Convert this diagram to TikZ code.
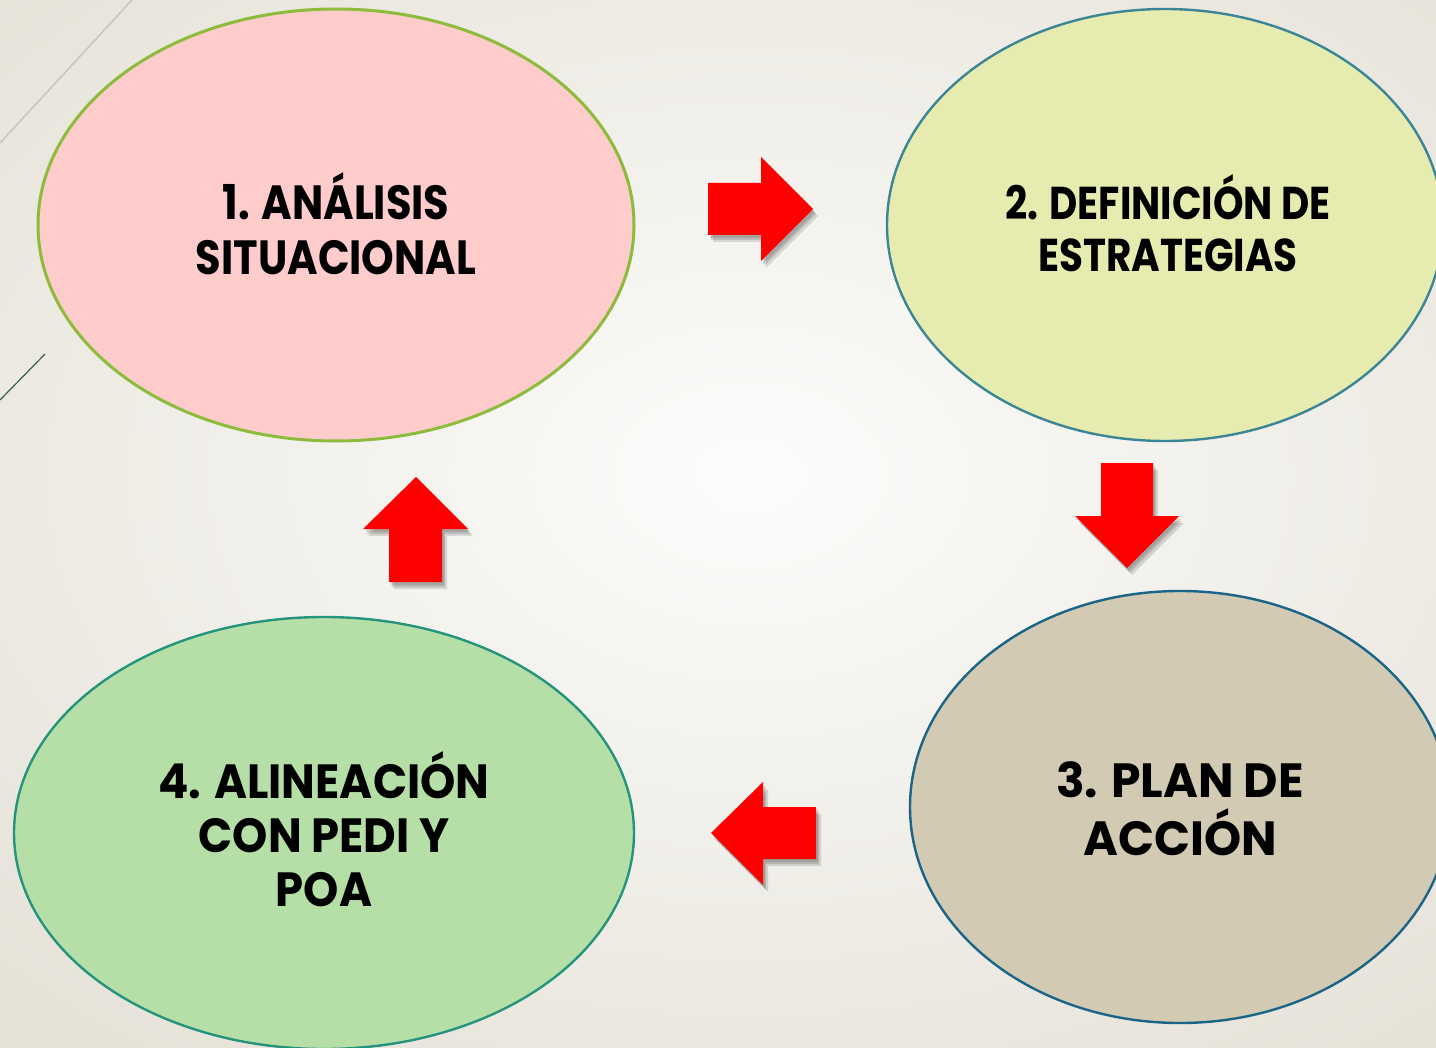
\documentclass[tikz,border=0pt]{standalone}
\usepackage{fontspec}
\setmainfont{Poppins}
\newfontfamily\fontA{Poppins}[FakeStretch=0.865]
\newfontfamily\fontB{Poppins}[FakeStretch=0.845]
\newfontfamily\fontC{Poppins}[FakeStretch=0.985]
\newfontfamily\fontD{Poppins}[FakeStretch=0.935]
\usetikzlibrary{shapes.geometric}
\definecolor{bgout}{HTML}{E6E2D8}
\definecolor{bgin}{HTML}{FCFCFB}
\definecolor{fillA}{HTML}{FFCCCC}
\definecolor{drawA}{HTML}{8DBB3B}
\definecolor{fillB}{HTML}{E6ECB0}
\definecolor{drawB}{HTML}{3A8596}
\definecolor{fillC}{HTML}{D3CAB3}
\definecolor{drawC}{HTML}{1A6587}
\definecolor{fillD}{HTML}{B6DFA8}
\definecolor{drawD}{HTML}{24957C}
\definecolor{arrowred}{HTML}{FF0000}
\definecolor{deco1}{HTML}{C4C8C0}
\definecolor{deco2}{HTML}{3E5A50}
\tikzset{
  oval/.style={ellipse, inner sep=0pt, line width=1.2pt, minimum height=216pt},
  label/.style={align=center, text=black},
  blockarrow/.style={fill=arrowred},
  shadowpart/.style={fill=black, opacity=0.12},
}
\begin{document}
\begin{tikzpicture}[x=0.5pt,y=-0.5pt]
\useasboundingbox (0,0) rectangle (1436,1048);
\shade[inner color=bgin, outer color=bgout] (-300,-250) rectangle (1800,1200);
\clip (0,0) rectangle (1436,1048);
% decorative lines
\coordinate (d1a) at (0,143); \coordinate (d1b) at (132,0);
\draw[deco1, line width=0.8pt] (d1a) -- (d1b);
\coordinate (d2a) at (0,400); \coordinate (d2b) at (45,354);
\draw[deco2, line width=0.6pt] (d2a) -- (d2b);
% ellipses
\node[oval, draw=drawA, fill=fillA, line width=1.5pt, minimum width=298pt] (e1) at (336,225) {};
\node[oval, draw=drawB, fill=fillB, minimum width=278pt] (e2) at (1165,225) {};
\node[oval, draw=drawC, fill=fillC, minimum width=270pt] (e3) at (1180,807) {};
\node[oval, draw=drawD, fill=fillD, minimum width=310pt] (e4) at (324,833) {};
% texts
\node[label, font=\fontA\fontsize{24}{27.5}\selectfont\bfseries] (t1) at (336,224) {1. ANÁLISIS\\SITUACIONAL};
\node[label, font=\fontB\fontsize{23}{26}\selectfont\bfseries] (t2) at (1168,223) {2. DEFINICIÓN DE\\ESTRATEGIAS};
\node[label, font=\fontC\fontsize{24}{29}\selectfont\bfseries] (t3) at (1180,809) {3. PLAN DE\\ACCIÓN};
\node[label, font=\fontD\fontsize{24}{27}\selectfont\bfseries] (t4) at (324,829) {4. ALINEACIÓN\\CON PEDI Y\\POA};
% arrows with shadows
\foreach \dx/\dy in {2/3,3/5,5/7}{
  \fill[shadowpart, shift={(\dx,\dy)}] (708,183) -- (761,183) -- (761,157) -- (813,209) -- (761,261) -- (761,235) -- (708,235) -- cycle;
  \fill[shadowpart, shift={(\dx,\dy)}] (1101,463) -- (1153,463) -- (1153,516) -- (1179,516) -- (1127,568) -- (1075,516) -- (1101,516) -- cycle;
  \fill[shadowpart, shift={(\dx,\dy)}] (416,477) -- (468,529) -- (442,529) -- (442,582) -- (389,582) -- (389,529) -- (363,529) -- cycle;
  \fill[shadowpart, shift={(\dx,\dy)}] (711,833) -- (763,782) -- (763,807) -- (816,807) -- (816,859) -- (763,859) -- (763,885) -- cycle;
}
\fill[blockarrow] (708,183) -- (761,183) -- (761,157) -- (813,209) -- (761,261) -- (761,235) -- (708,235) -- cycle;
\fill[blockarrow] (1101,463) -- (1153,463) -- (1153,516) -- (1179,516) -- (1127,568) -- (1075,516) -- (1101,516) -- cycle;
\fill[blockarrow] (416,477) -- (468,529) -- (442,529) -- (442,582) -- (389,582) -- (389,529) -- (363,529) -- cycle;
\fill[blockarrow] (711,833) -- (763,782) -- (763,807) -- (816,807) -- (816,859) -- (763,859) -- (763,885) -- cycle;
\end{tikzpicture}
\end{document}
